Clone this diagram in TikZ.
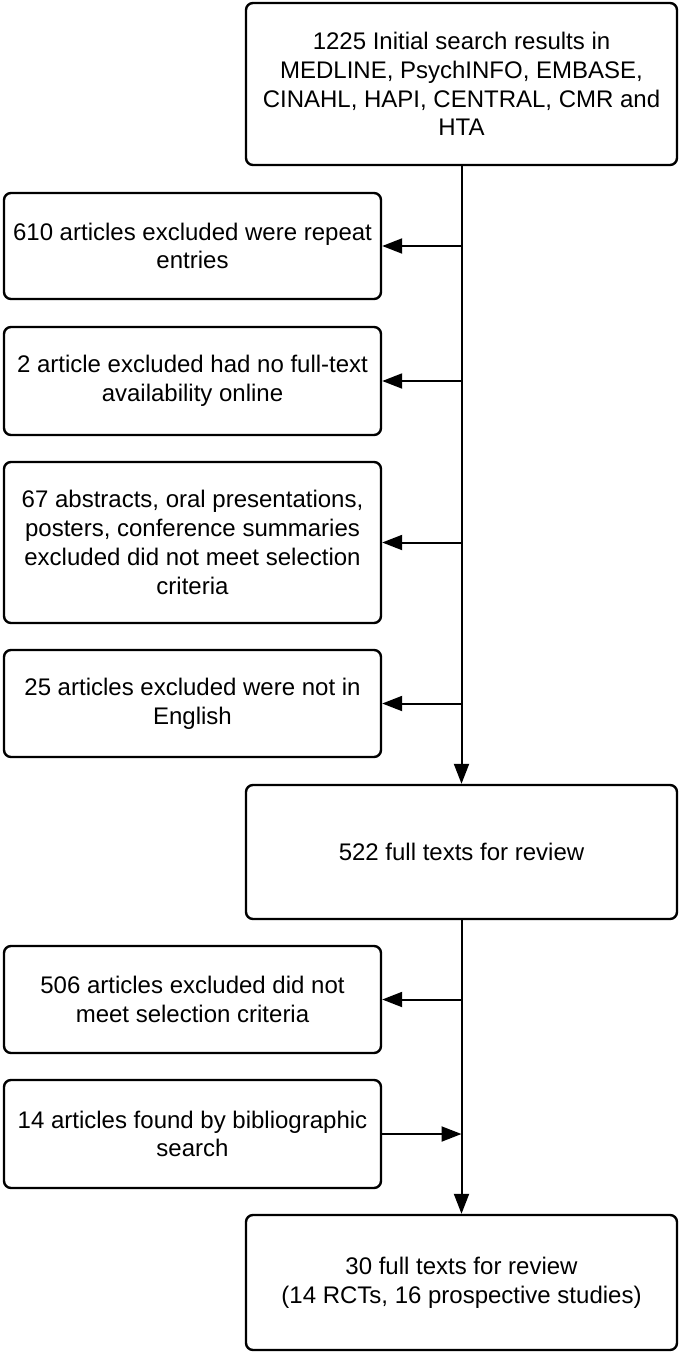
\documentclass[tikz,border=0pt]{standalone}
\usepackage{fontspec}
\setmainfont{Liberation Sans}
\usetikzlibrary{arrows.meta,positioning}
\pgfdeclarelayer{edgelayer}
\pgfdeclarelayer{nodelayer}
\pgfsetlayers{edgelayer,nodelayer,main}
\tikzset{font=\fontsize{24}{28.8}\selectfont}
\tikzstyle{none}=[inner sep=0pt]
\tikzstyle{stage}=[rectangle,rounded corners=7pt,draw=black,fill=white,line width=2.4pt,align=center,inner sep=0pt]
\tikzstyle{flow}=[-{Triangle[length=20pt,width=15pt]},draw=black,line width=2pt]
\tikzstyle{side}=[stage,minimum width=377pt]
\tikzstyle{main}=[stage,minimum width=431pt]

\begin{document}
\begin{tikzpicture}[x=1pt,y=-1pt]
	\useasboundingbox (0,0) rectangle (681,1354);
	\begin{pgfonlayer}{nodelayer}
		\node [style=main, minimum height=162pt] (search) at (461.5,84) {1225 Initial search results in\\MEDLINE, PsychINFO, EMBASE,\\CINAHL, HAPI, CENTRAL, CMR and\\HTA};
		\node [style=side, minimum height=106pt] (repeat) at (192.5,246) {610 articles excluded were repeat\\entries};
		\node [style=side, minimum height=108pt] (online) at (192.5,381) {2 article excluded had no full-text\\availability online};
		\node [style=side, minimum height=161pt] (abstr) at (192.5,542.5) {67 abstracts, oral presentations,\\posters, conference summaries\\excluded did not meet selection\\criteria};
		\node [style=side, minimum height=107pt] (english) at (192.5,703.5) {25 articles excluded were not in\\English};
		\node [style=main, minimum height=134pt] (full) at (461.5,852) {522 full texts for review};
		\node [style=side, minimum height=107pt] (criteria) at (192.5,999.5) {506 articles excluded did not\\meet selection criteria};
		\node [style=side, minimum height=108pt] (biblio) at (192.5,1134) {14 articles found by bibliographic\\search};
		\node [style=main, minimum height=135pt] (final) at (461.5,1282.5) {30 full texts for review\\(14 RCTs, 16 prospective studies)};
		\coordinate (jrepeat) at (repeat.east -| search.south);
		\coordinate (jonline) at (online.east -| search.south);
		\coordinate (jabstr) at (abstr.east -| search.south);
		\coordinate (jenglish) at (english.east -| search.south);
		\coordinate (jcriteria) at (criteria.east -| full.south);
		\coordinate (jbiblio) at (biblio.east -| full.south);
	\end{pgfonlayer}
	\begin{pgfonlayer}{edgelayer}
		\draw [style=flow] (search) to (full);
		\draw [style=flow] (full) to (final);
		\draw [style=flow] (jrepeat) to (repeat);
		\draw [style=flow] (jonline) to (online);
		\draw [style=flow] (jabstr) to (abstr);
		\draw [style=flow] (jenglish) to (english);
		\draw [style=flow] (jcriteria) to (criteria);
		\draw [style=flow] (biblio) to (jbiblio);
	\end{pgfonlayer}
\end{tikzpicture}
\end{document}
